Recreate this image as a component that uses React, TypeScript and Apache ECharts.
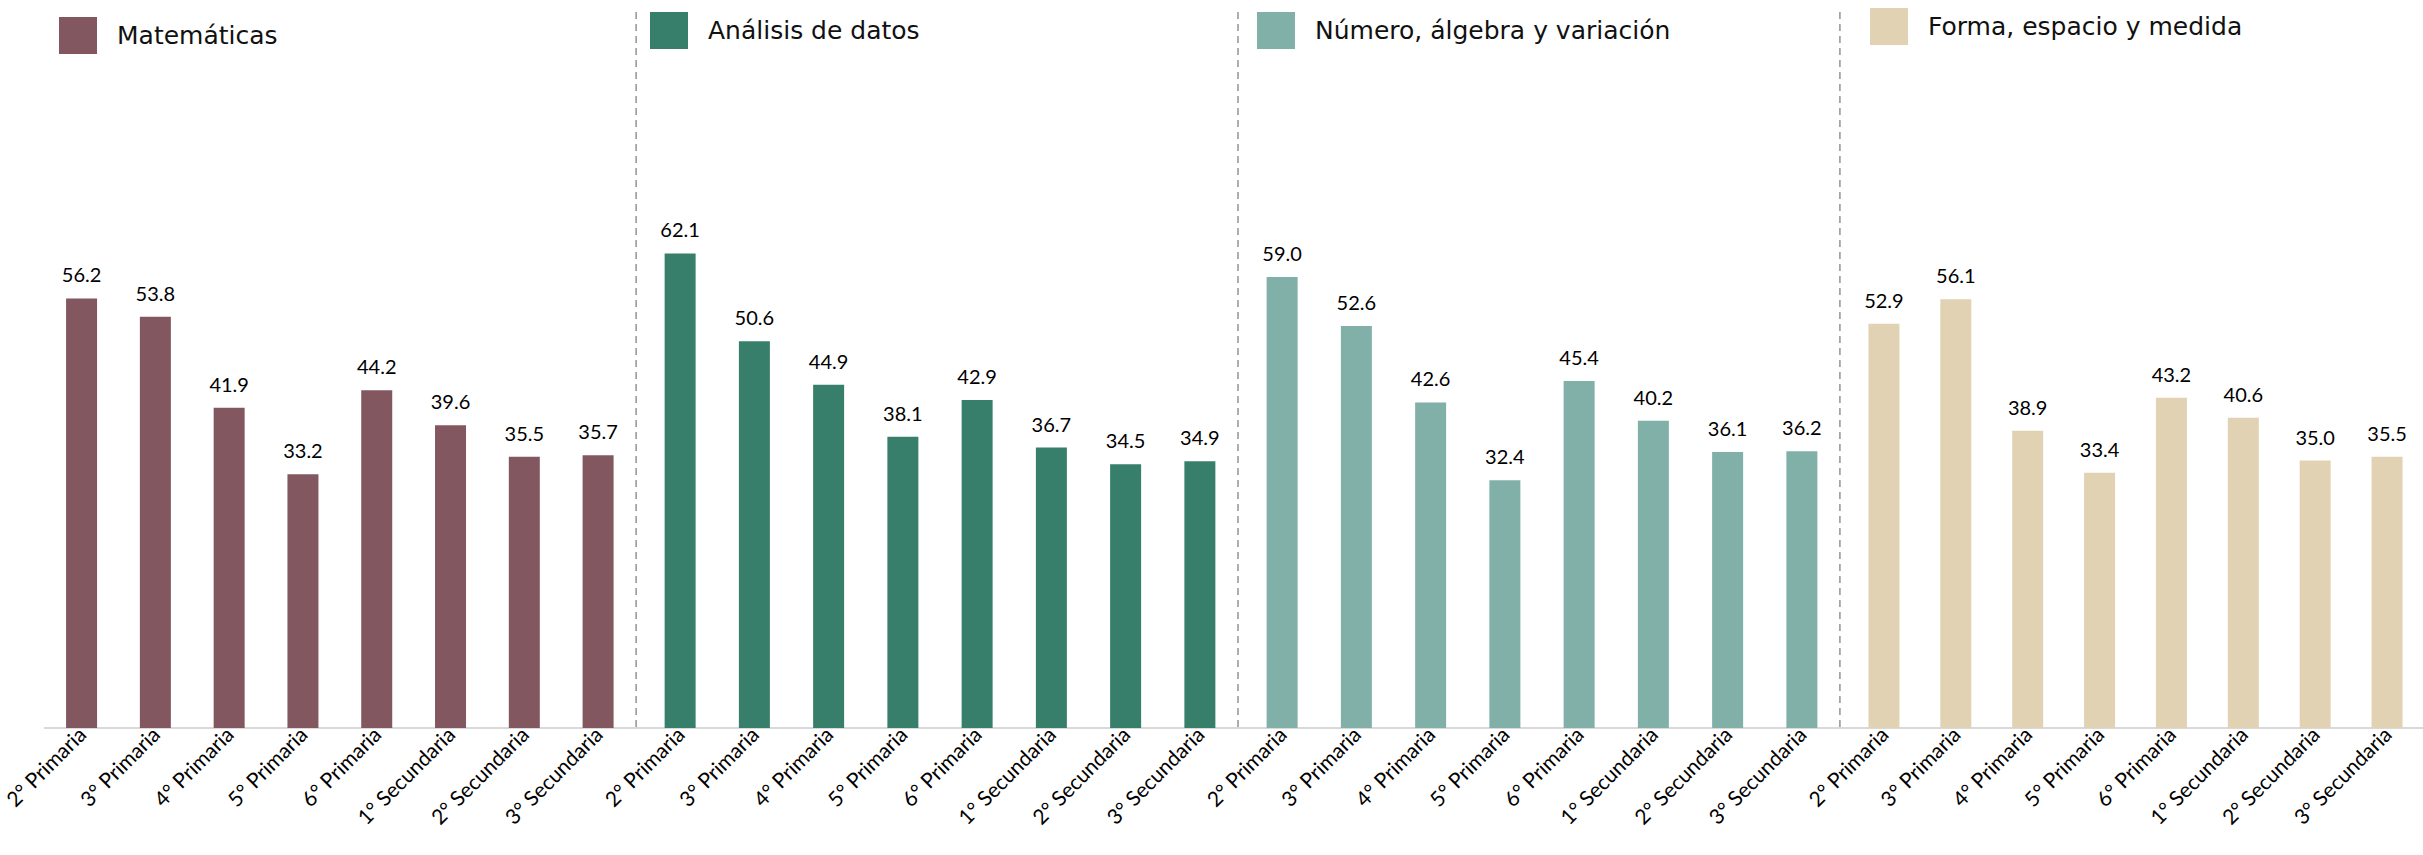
import React, { useEffect, useRef } from "react";
import * as echarts from "echarts";

const categories = [
  "2° Primaria",
  "3° Primaria",
  "4° Primaria",
  "5° Primaria",
  "6° Primaria",
  "1° Secundaria",
  "2° Secundaria",
  "3° Secundaria",
];
const seriesNames = [
  "Matemáticas",
  "Análisis de datos",
  "Número, álgebra y variación",
  "Forma, espacio y medida",
];
const matematicas = [56.2, 53.8, 41.9, 33.2, 44.2, 39.6, 35.5, 35.7];
const analisisDatos = [62.1, 50.6, 44.9, 38.1, 42.9, 36.7, 34.5, 34.9];
const numeroAlgebra = [59.0, 52.6, 42.6, 32.4, 45.4, 40.2, 36.1, 36.2];
const formaEspacio = [52.9, 56.1, 38.9, 33.4, 43.2, 40.6, 35.0, 35.5];
const seriesValues = [matematicas, analisisDatos, numeroAlgebra, formaEspacio];
const colors = ["#83575F", "#377F6A", "#80B0A8", "#E2D2B4"];

// layout
const W = 2423;
const H = 855;
const gridLefts = [41, 643, 1245, 1848];
const gridWidth = 594;
const gridTop = 193;
const gridBottom = 127;
const legendLefts = [59, 650, 1257, 1870];
const legendTops = [17, 12, 12, 8];

export default function App() {
  const ref = useRef<HTMLDivElement>(null);
  useEffect(() => {
    if (!ref.current) return;
    const chart = echarts.init(ref.current, undefined, { renderer: "svg" });
    const option: any = {
      animation: false,
      backgroundColor: "#ffffff",
      grid: gridLefts.map((l) => ({
        left: l,
        width: gridWidth,
        top: gridTop,
        bottom: gridBottom,
      })),
      xAxis: gridLefts.map((_, i) => ({
        type: "category",
        gridIndex: i,
        data: categories,
        axisLine: { show: true, lineStyle: { color: "#d9d9d9", width: 2 } },
        axisTick: { show: false },
        axisLabel: {
          interval: 0,
          rotate: 45,
          margin: 2,
          padding: [42, 0, 0, 0],
          fontSize: 21,
          fontFamily: "Lato",
          color: "#000",
        },
      })),
      yAxis: gridLefts.map((_, i) => ({
        type: "value",
        gridIndex: i,
        min: 0,
        max: 70,
        show: false,
        splitLine: { show: false },
      })),
      legend: seriesNames.map((n, i) => ({
        data: [n],
        left: legendLefts[i],
        top: legendTops[i],
        padding: 0,
        itemWidth: 38,
        itemHeight: 37,
        icon: "rect",
        selectedMode: false,
        textStyle: {
          fontSize: 25,
          fontFamily: "DejaVu Sans",
          color: "#111",
          padding: [0, 0, 0, 15],
        },
      })),
      series: seriesNames.map((n, i) => ({
        name: n,
        type: "bar",
        xAxisIndex: i,
        yAxisIndex: i,
        data: seriesValues[i],
        barWidth: 31,
        itemStyle: { color: colors[i] },
        label: {
          show: true,
          position: "top",
          distance: 14,
          fontSize: 20,
          fontFamily: "Lato",
          color: "#000",
          formatter: (p: any) => Number(p.value).toFixed(1),
        },
      })),
    };
    chart.setOption(option);

    const y0 = chart.convertToPixel({ yAxisIndex: 0 }, 0) as number;
    const graphics: any[] = [
      {
        type: "line",
        z: 0,
        shape: { x1: 56, y1: y0, x2: W, y2: y0 },
        style: { stroke: "#d9d9d9", lineWidth: 2 },
      },
    ];
    for (let g = 0; g < 3; g++) {
      const a = chart.convertToPixel(
        { xAxisIndex: g },
        categories[categories.length - 1]
      ) as number;
      const b = chart.convertToPixel({ xAxisIndex: g + 1 }, categories[0]) as number;
      const x = (a + b) / 2 - 3;
      graphics.push({
        type: "line",
        z: 10,
        shape: { x1: x, y1: 12, x2: x, y2: y0 },
        style: { stroke: "#9a9a9a", lineWidth: 1.6, lineDash: [7, 5] },
      });
    }
    chart.setOption({ graphic: graphics });

    return () => chart.dispose();
  }, []);
  return (
    <div
      ref={ref}
      style={{ position: "fixed", left: 0, top: 0, width: W, height: H }}
    />
  );
}
